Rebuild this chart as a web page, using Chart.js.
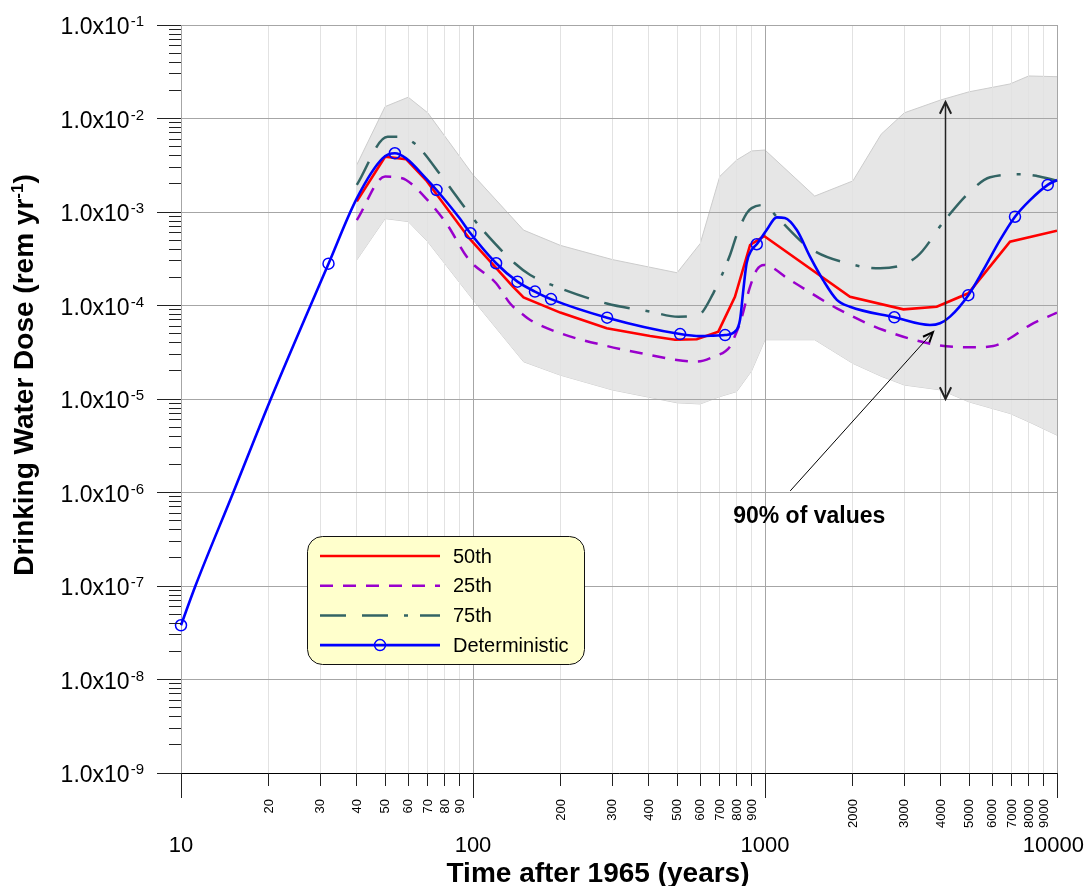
<!DOCTYPE html>
<html>
<head>
<meta charset="utf-8">
<title>Drinking Water Dose</title>
<script src="https://cdn.jsdelivr.net/npm/chart.js@4.4.1/dist/chart.umd.min.js"></script>
<style>
    html, body { margin: 0; padding: 0; background: #fff; }
    canvas { display: block; }
</style>
</head>
<body>
<canvas id="dose-chart" width="1091" height="886"></canvas>
<script>
// 坐标轴刻度
const xMajorTicks = [10, 100, 1000, 10000];
const xMinorTicks = [20, 30, 40, 50, 60, 70, 80, 90,
    200, 300, 400, 500, 600, 700, 800, 900,
    2000, 3000, 4000, 5000, 6000, 7000, 8000, 9000];
const yMajorTicks = [1e-9, 1e-8, 1e-7, 1e-6, 1e-5, 1e-4, 1e-3, 1e-2, 1e-1];
const yMinorSteps = [2, 3, 4, 5, 6, 7, 8, 9];

// 90% 区间 (灰色带)
const bandTime = [40, 50, 60, 70, 100, 149, 199, 300, 500, 600, 700, 800, 900, 1000, 1480, 2000, 2500, 3000, 4000, 5000, 6900, 8000, 10000];
const bandLow = [3.07e-4, 8.5e-4, 7.9e-4, 4.8e-4, 1.15e-4, 2.5e-5, 1.8e-5, 1.25e-5, 9.1e-6, 8.85e-6, 1.06e-5, 1.2e-5, 2.0e-5, 4.3e-5, 4.3e-5, 2.4e-5, 1.75e-5, 1.41e-5, 1.25e-5, 9.3e-6, 7.0e-6, 5.7e-6, 4.1e-6];
const bandHigh = [3.2e-3, 1.34e-2, 1.69e-2, 1.15e-2, 2.5e-3, 6.4e-4, 4.4e-4, 3.1e-4, 2.24e-4, 4.6e-4, 2.4e-3, 3.6e-3, 4.5e-3, 4.6e-3, 1.48e-3, 2.15e-3, 6.8e-3, 1.15e-2, 1.58e-2, 1.93e-2, 2.34e-2, 2.85e-2, 2.8e-2];

// 50th
const p50Time = [40, 50, 59, 69, 97, 137, 149, 199, 287, 404, 492, 584, 692, 789, 889, 993, 1955, 2978, 3873, 4969, 6902, 10000];
const p50Dose = [1.3e-3, 3.9e-3, 3.67e-3, 2.2e-3, 5.24e-4, 1.59e-4, 1.22e-4, 8.4e-5, 5.7e-5, 4.72e-5, 4.3e-5, 4.35e-5, 5.25e-5, 1.24e-4, 4.44e-4, 5.53e-4, 1.24e-4, 9.1e-5, 9.7e-5, 1.35e-4, 4.82e-4, 6.3e-4];

// 25th
const p25Time = [40, 50, 54, 59, 69, 81, 97, 120, 134, 149, 157, 199, 287, 404, 499, 584, 665, 759, 778, 821, 889, 937, 993, 1218, 1762, 2542, 3873, 5036, 6050, 6902, 8086, 10000];
const p25Dose = [8.2e-4, 2.39e-3, 2.36e-3, 2.2e-3, 1.4e-3, 7.57e-4, 3.07e-4, 1.73e-4, 1.05e-4, 7.9e-5, 7.0e-5, 5.05e-5, 3.69e-5, 2.96e-5, 2.61e-5, 2.51e-5, 2.83e-5, 3.63e-5, 4.28e-5, 6.46e-5, 1.59e-4, 2.4e-4, 2.71e-4, 1.87e-4, 9.33e-5, 5.47e-5, 3.79e-5, 3.57e-5, 3.69e-5, 4.46e-5, 6.18e-5, 8.37e-5];

// 75th
const p75Time = [40, 51, 55, 63, 79, 97, 108, 139, 157, 186, 287, 404, 505, 591, 665, 759, 800, 865, 900, 1000, 1097, 1426, 1955, 2477, 3311, 4130, 5036, 5902, 7676, 8530, 10000];
const p75Dose = [1.95e-3, 6.38e-3, 6.38e-3, 5.43e-3, 2.29e-3, 9.68e-4, 6.41e-4, 2.83e-4, 2.12e-4, 1.66e-4, 1.05e-4, 8.59e-5, 7.58e-5, 7.9e-5, 1.35e-4, 3.47e-4, 5.68e-4, 9.68e-4, 1.1e-3, 1.19e-3, 8.9e-4, 4.09e-4, 2.78e-4, 2.5e-4, 3.33e-4, 8.2e-4, 1.65e-3, 2.35e-3, 2.53e-3, 2.43e-3, 2.16e-3];

// Deterministic
const detTime = [10, 11.2, 15.1, 20.3, 32, 40, 49, 54, 59, 69, 75, 90, 98, 120, 142, 163, 185, 288, 512, 600, 650, 730, 789, 821, 843, 865, 900, 937, 1013, 1097, 1169, 1285, 1426, 1581, 1762, 1955, 2773, 3673, 3975, 4302, 4969, 5595, 6379, 7180, 8086, 9295, 10000];
const detDose = [3.8e-8, 1e-7, 1e-6, 1e-5, 2.8e-4, 1.4e-3, 3.75e-3, 4.25e-3, 3.75e-3, 2.29e-3, 1.72e-3, 8.57e-4, 5.92e-4, 2.83e-4, 1.8e-4, 1.41e-4, 1.17e-4, 7.41e-5, 4.95e-5, 4.7e-5, 4.75e-5, 4.83e-5, 5.25e-5, 7.0e-5, 1.47e-4, 2.83e-4, 3.93e-4, 4.52e-4, 6.41e-4, 8.77e-4, 8.63e-4, 6.41e-4, 3.33e-4, 1.87e-4, 1.15e-4, 9.7e-5, 7.48e-5, 6.18e-5, 6.45e-5, 7.6e-5, 1.29e-4, 2.4e-4, 5.0e-4, 8.9e-4, 1.34e-3, 1.95e-3, 2.2e-3];
const detMarkerTime = [10, 32, 54, 75, 98, 120, 142, 163, 185, 288, 512, 730, 937, 2773, 4969, 7180, 9295];

// 注释
const rangeArrowTime = 4150;
const rangeArrowDose = [1.0e-5, 1.5e-2];
const noteArrowTime = [1220, 3760];
const noteArrowDose = [1.04e-6, 5.2e-5];
const noteText = '90% of values';
const notePos = [778, 4.75e-7];

const FONT = "'Liberation Sans', Arial, sans-serif";
const GRID_MAJOR = '#a6a6a6';
const GRID_MINOR = '#e2e2e2';

function toPoints(xs, ys) {
    return xs.map((x, i) => ({ x: x, y: ys[i] }));
}

// 与 Chart.js 的网格线对齐
function align(p) {
    return Math.round(p - 0.5) + 0.5;
}

function line(ctx, x1, y1, x2, y2) {
    ctx.beginPath();
    ctx.moveTo(x1, y1);
    ctx.lineTo(x2, y2);
    ctx.stroke();
}

function arrowHead(ctx, x1, y1, x2, y2, len, half) {
    const a = Math.atan2(y2 - y1, x2 - x1);
    ctx.beginPath();
    ctx.moveTo(x2 - len * Math.cos(a - half), y2 - len * Math.sin(a - half));
    ctx.lineTo(x2, y2);
    ctx.lineTo(x2 - len * Math.cos(a + half), y2 - len * Math.sin(a + half));
    ctx.stroke();
}

// 灰色带画完后再把网格线画在上面
const gridOverBand = {
    id: 'gridOverBand',
    afterDatasetDraw(chart, args) {
        if (args.index !== 1) return;
        const { ctx, chartArea: area, scales: { x, y } } = chart;
        ctx.save();
        ctx.beginPath();
        ctx.rect(area.left, area.top, area.right - area.left, area.bottom - area.top);
        ctx.clip();
        ctx.lineWidth = 1;
        xMinorTicks.forEach(v => {
            const p = align(x.getPixelForValue(v));
            ctx.strokeStyle = GRID_MINOR;
            line(ctx, p, area.top, p, area.bottom);
        });
        xMajorTicks.forEach(v => {
            const p = align(x.getPixelForValue(v));
            ctx.strokeStyle = GRID_MAJOR;
            line(ctx, p, area.top, p, area.bottom);
        });
        yMajorTicks.forEach(v => {
            const p = align(y.getPixelForValue(v));
            ctx.strokeStyle = GRID_MAJOR;
            line(ctx, area.left, p, area.right, p);
        });
        ctx.restore();
    }
};

// 坐标轴刻度线、刻度标签和标题
const axisDecor = {
    id: 'axisDecor',
    afterDraw(chart) {
        const { ctx, chartArea: area, scales: { x, y } } = chart;
        ctx.save();
        ctx.strokeStyle = '#222';
        ctx.lineWidth = 1;

        // y 轴刻度
        yMajorTicks.forEach((v, i) => {
            const py = align(y.getPixelForValue(v));
            line(ctx, area.left - 24, py, area.left, py);
            if (i < yMajorTicks.length - 1) {
                yMinorSteps.forEach(m => {
                    const my = align(y.getPixelForValue(v * m));
                    line(ctx, area.left - 12, my, area.left, my);
                });
            }
        });

        // x 轴刻度
        xMajorTicks.forEach(v => {
            const p = align(x.getPixelForValue(v));
            line(ctx, p, area.bottom, p, area.bottom + 25);
        });
        xMinorTicks.forEach(v => {
            const p = align(x.getPixelForValue(v));
            line(ctx, p, area.bottom, p, area.bottom + 13);
        });

        ctx.fillStyle = '#000';

        // y 轴标签 1.0x10^n
        yMajorTicks.forEach(v => {
            const py = y.getPixelForValue(v);
            const exp = String(Math.round(Math.log10(v)));
            ctx.font = '15px ' + FONT;
            const wExp = ctx.measureText(exp).width;
            ctx.font = '23px ' + FONT;
            ctx.textAlign = 'right';
            ctx.textBaseline = 'alphabetic';
            const right = 143 - wExp;
            ctx.fillText('1.0x10', right, py + 9);
            ctx.font = '15px ' + FONT;
            ctx.textAlign = 'left';
            ctx.fillText(exp, right + 1, py + 1);
        });

        // x 轴主标签
        ctx.font = '22px ' + FONT;
        ctx.textAlign = 'center';
        ctx.textBaseline = 'alphabetic';
        xMajorTicks.forEach(v => {
            const label = String(v);
            const w = ctx.measureText(label).width;
            const cx = Math.min(x.getPixelForValue(v), 1084 - w / 2);
            ctx.fillText(label, cx, area.bottom + 79);
        });

        // x 轴次标签 (竖排)
        ctx.font = '13px ' + FONT;
        ctx.textAlign = 'right';
        ctx.textBaseline = 'middle';
        xMinorTicks.forEach(v => {
            ctx.save();
            ctx.translate(x.getPixelForValue(v) + 0.5, area.bottom + 26);
            ctx.rotate(-Math.PI / 2);
            ctx.fillText(String(v), 0, 0);
            ctx.restore();
        });

        // x 轴标题
        ctx.font = 'bold 28px ' + FONT;
        ctx.textAlign = 'center';
        ctx.textBaseline = 'alphabetic';
        ctx.fillText('Time after 1965 (years)', 598, 882);

        // y 轴标题
        const partA = 'Drinking Water Dose (rem yr';
        const partSup = '-1';
        const partB = ')';
        ctx.font = 'bold 28px ' + FONT;
        const wA = ctx.measureText(partA).width;
        const wB = ctx.measureText(partB).width;
        ctx.font = 'bold 17px ' + FONT;
        const wS = ctx.measureText(partSup).width;
        const total = wA + wS + wB;
        ctx.save();
        ctx.translate(33, 375);
        ctx.rotate(-Math.PI / 2);
        ctx.textAlign = 'left';
        let pos = -total / 2;
        ctx.font = 'bold 28px ' + FONT;
        ctx.fillText(partA, pos, 0);
        pos += wA;
        ctx.font = 'bold 17px ' + FONT;
        ctx.fillText(partSup, pos, -10);
        pos += wS;
        ctx.font = 'bold 28px ' + FONT;
        ctx.fillText(partB, pos, 0);
        ctx.restore();

        ctx.restore();
    }
};

// 箭头和 "90% of values"
const notes = {
    id: 'notes',
    afterDatasetsDraw(chart) {
        const { ctx, scales: { x, y } } = chart;
        ctx.save();

        const ax = align(x.getPixelForValue(rangeArrowTime));
        const ayLow = y.getPixelForValue(rangeArrowDose[0]);
        const ayHigh = y.getPixelForValue(rangeArrowDose[1]);
        ctx.strokeStyle = '#222';
        ctx.lineWidth = 1.5;
        line(ctx, ax, ayLow, ax, ayHigh);
        ctx.lineWidth = 2;
        arrowHead(ctx, ax, ayLow, ax, ayHigh, 13, 0.45);
        arrowHead(ctx, ax, ayHigh, ax, ayLow, 13, 0.45);

        const nx1 = x.getPixelForValue(noteArrowTime[0]);
        const ny1 = y.getPixelForValue(noteArrowDose[0]);
        const nx2 = x.getPixelForValue(noteArrowTime[1]);
        const ny2 = y.getPixelForValue(noteArrowDose[1]);
        ctx.strokeStyle = '#000';
        ctx.lineWidth = 1;
        line(ctx, nx1, ny1, nx2, ny2);
        ctx.lineWidth = 2;
        arrowHead(ctx, nx1, ny1, nx2, ny2, 11, 0.4);

        ctx.fillStyle = '#000';
        ctx.font = 'bold 23px ' + FONT;
        ctx.textAlign = 'left';
        ctx.textBaseline = 'alphabetic';
        ctx.fillText(noteText, x.getPixelForValue(notePos[0]), y.getPixelForValue(notePos[1]));
        ctx.restore();
    }
};

// 图例 (圆角黄色框)
const legendBox = {
    id: 'legendBox',
    afterDraw(chart) {
        const ctx = chart.ctx;
        const bx = 307.5, by = 536.5, bw = 277, bh = 128, r = 15;
        ctx.save();
        ctx.beginPath();
        ctx.moveTo(bx + r, by);
        ctx.arcTo(bx + bw, by, bx + bw, by + bh, r);
        ctx.arcTo(bx + bw, by + bh, bx, by + bh, r);
        ctx.arcTo(bx, by + bh, bx, by, r);
        ctx.arcTo(bx, by, bx + bw, by, r);
        ctx.closePath();
        ctx.fillStyle = '#ffffcc';
        ctx.fill();
        ctx.strokeStyle = '#111';
        ctx.lineWidth = 1;
        ctx.stroke();

        const items = chart.data.datasets.filter(d => d.inLegend);
        items.sort((a, b) => a.legendOrder - b.legendOrder);
        items.forEach((d, i) => {
            const ly = 556 + i * 29.7;
            ctx.strokeStyle = d.borderColor;
            ctx.lineWidth = d.borderWidth;
            ctx.setLineDash(d.borderDash || []);
            line(ctx, 320, ly, 440, ly);
            ctx.setLineDash([]);
            if (d.legendMarker) {
                ctx.lineWidth = 1.5;
                ctx.beginPath();
                ctx.arc(380, ly, 5.5, 0, Math.PI * 2);
                ctx.stroke();
            }
            ctx.fillStyle = '#000';
            ctx.font = '20px ' + FONT;
            ctx.textAlign = 'left';
            ctx.textBaseline = 'middle';
            ctx.fillText(d.label, 453, ly + 1);
        });
        ctx.restore();
    }
};

function drawDoseChart() {
    const canvas = document.getElementById('dose-chart');
    new Chart(canvas, {
        type: 'line',
        data: {
            datasets: [
                {
                    label: '5th',
                    data: toPoints(bandTime, bandLow),
                    borderColor: '#cccccc',
                    borderWidth: 1,
                    pointRadius: 0,
                    fill: false,
                    order: 5
                },
                {
                    label: '95th',
                    data: toPoints(bandTime, bandHigh),
                    borderColor: '#cccccc',
                    borderWidth: 1,
                    backgroundColor: '#e6e6e6',
                    pointRadius: 0,
                    fill: '-1',
                    order: 4
                },
                {
                    label: '25th',
                    data: toPoints(p25Time, p25Dose),
                    borderColor: '#9900cc',
                    borderWidth: 2.5,
                    borderDash: [13, 10],
                    pointRadius: 0,
                    cubicInterpolationMode: 'monotone',
                    fill: false,
                    order: 3,
                    inLegend: true,
                    legendOrder: 1
                },
                {
                    label: '75th',
                    data: toPoints(p75Time, p75Dose),
                    borderColor: '#336464',
                    borderWidth: 2.5,
                    borderDash: [26, 16, 26, 16, 4, 12],
                    pointRadius: 0,
                    cubicInterpolationMode: 'monotone',
                    fill: false,
                    order: 2,
                    inLegend: true,
                    legendOrder: 2
                },
                {
                    label: '50th',
                    data: toPoints(p50Time, p50Dose),
                    borderColor: '#ff0000',
                    borderWidth: 2.6,
                    pointRadius: 0,
                    tension: 0,
                    fill: false,
                    order: 1,
                    inLegend: true,
                    legendOrder: 0
                },
                {
                    label: 'Deterministic',
                    data: toPoints(detTime, detDose),
                    borderColor: '#0000ff',
                    borderWidth: 2.6,
                    cubicInterpolationMode: 'monotone',
                    pointRadius: ctx => detMarkerTime.includes(detTime[ctx.dataIndex]) ? 5.5 : 0,
                    pointBorderColor: '#0000ff',
                    pointBackgroundColor: 'rgba(0,0,0,0)',
                    pointBorderWidth: 1.5,
                    fill: false,
                    clip: false,
                    order: 0,
                    inLegend: true,
                    legendOrder: 3,
                    legendMarker: true
                }
            ]
        },
        options: {
            responsive: false,
            animation: false,
            devicePixelRatio: 1,
            layout: { padding: { left: 0, top: 25, right: 34, bottom: 0 } },
            plugins: {
                legend: { display: false },
                tooltip: { enabled: false }
            },
            scales: {
                x: {
                    type: 'logarithmic',
                    min: 10,
                    max: 10000,
                    afterBuildTicks: scale => {
                        scale.ticks = xMajorTicks.concat(xMinorTicks)
                            .sort((a, b) => a - b)
                            .map(v => ({ value: v, major: xMajorTicks.includes(v) }));
                    },
                    afterFit: scale => { scale.height = 113; },
                    ticks: { display: false },
                    grid: {
                        drawTicks: false,
                        color: ctx => (ctx.tick && xMajorTicks.includes(ctx.tick.value)) ? GRID_MAJOR : GRID_MINOR,
                        lineWidth: 1
                    },
                    border: { display: true, color: '#000', width: 1 }
                },
                y: {
                    type: 'logarithmic',
                    min: 1e-9,
                    max: 1e-1,
                    afterBuildTicks: scale => {
                        scale.ticks = yMajorTicks.map(v => ({ value: v, major: true }));
                    },
                    afterFit: scale => { scale.width = 181; },
                    ticks: { display: false },
                    grid: {
                        drawTicks: false,
                        color: GRID_MAJOR,
                        lineWidth: 1
                    },
                    border: { display: true, color: '#000', width: 1 }
                }
            }
        },
        plugins: [gridOverBand, notes, axisDecor, legendBox]
    });
}

document.addEventListener('DOMContentLoaded', () => {
    drawDoseChart();
});
</script>
</body>
</html>
